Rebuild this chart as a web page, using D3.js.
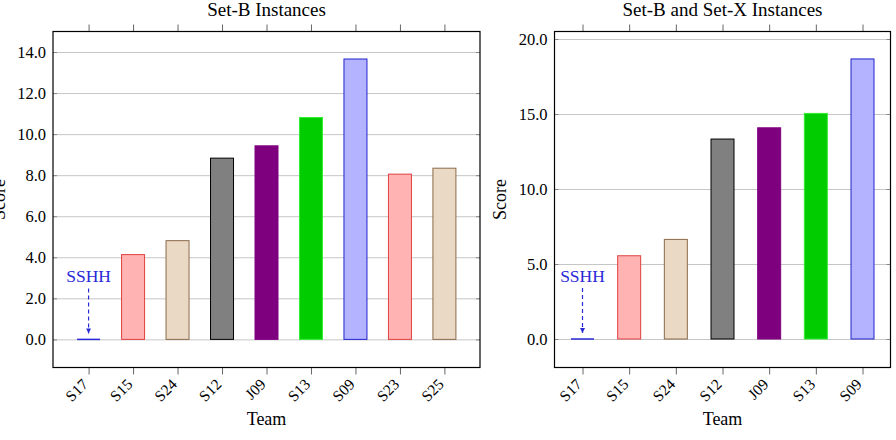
<!DOCTYPE html>
<html>
<head>
<meta charset="utf-8">
<script src="https://cdn.jsdelivr.net/npm/d3@7"></script>
<style>
  body { margin: 0; background: #fff; }
  text { font-family: "Liberation Serif", "DejaVu Serif", serif; }
</style>
</head>
<body>
<script>
// data
const teamsB = ["S17", "S15", "S24", "S12", "J09", "S13", "S09", "S23", "S25"];
const scoresB = [0, 4.13, 4.81, 8.83, 9.43, 10.81, 13.66, 8.05, 8.34];
const ticksB = [0, 2, 4, 6, 8, 10, 12, 14];

const teamsBX = ["S17", "S15", "S24", "S12", "J09", "S13", "S09"];
const scoresBX = [0, 5.55, 6.64, 13.33, 14.08, 15.04, 18.67];
const ticksBX = [0, 5, 10, 15, 20];

const annotation = "SSHH";

// team colours (fill, stroke)
const teamFill = {
  S17: "none", S15: "#ffb3b3", S23: "#ffb3b3", S24: "#ead9c4", S25: "#ead9c4",
  S12: "#808080", J09: "#7f007f", S13: "#00cc00", S09: "#b3b3ff"
};
const teamStroke = {
  S17: "#2a2ad8", S15: "#e04040", S23: "#e04040", S24: "#8b6b4a", S25: "#8b6b4a",
  S12: "#000000", J09: "#7f007f", S13: "#33ee33", S09: "#2222cc"
};

const width = 896, height = 440;
const svg = d3.select("body").append("svg")
    .attr("width", width)
    .attr("height", height);

svg.append("defs").append("marker")
    .attr("id", "arrow")
    .attr("viewBox", "0 0 10 10")
    .attr("refX", 10).attr("refY", 5)
    .attr("markerWidth", 5).attr("markerHeight", 5)
    .attr("markerUnits", "userSpaceOnUse")
    .attr("orient", "auto")
    .append("path")
    .attr("d", "M0,0 L10,5 L0,10 z")
    .attr("fill", "#2a2ad8");

function drawPanel(cfg) {
    const x = d3.scaleLinear().domain(cfg.xDomain).range([cfg.left, cfg.right]);
    const y = d3.scaleLinear().domain(cfg.yDomain).range([cfg.bottom, cfg.top]);
    const g = svg.append("g");
    const idx = d3.range(cfg.teams.length);

    // grid lines + y labels
    g.append("g")
        .attr("transform", `translate(${cfg.left},0)`)
        .call(d3.axisLeft(y).tickValues(cfg.yTicks).tickFormat(d3.format(".1f"))
            .tickSize(-(cfg.right - cfg.left)).tickPadding(7))
        .call(a => a.select(".domain").remove())
        .call(a => a.selectAll("line").attr("stroke", "#c6c6c6"))
        .call(a => a.selectAll("text").attr("font-size", 16.5).attr("fill", "#000"));

    // small y ticks at both edges
    g.append("g")
        .attr("transform", `translate(${cfg.left},0)`)
        .call(d3.axisLeft(y).tickValues(cfg.yTicks).tickFormat("").tickSize(-4))
        .call(a => a.select(".domain").remove())
        .call(a => a.selectAll("line").attr("stroke", "#888"));
    g.append("g")
        .attr("transform", `translate(${cfg.right},0)`)
        .call(d3.axisRight(y).tickValues(cfg.yTicks).tickFormat("").tickSize(-4))
        .call(a => a.select(".domain").remove())
        .call(a => a.selectAll("line").attr("stroke", "#888"));

    // bars
    const bw = 23;
    g.selectAll("rect.bar")
        .data(idx.filter(i => cfg.scores[i] > 0))
        .enter().append("rect")
        .attr("class", "bar")
        .attr("x", i => x(i) - bw / 2)
        .attr("y", i => y(cfg.scores[i]))
        .attr("width", bw)
        .attr("height", i => y(0) - y(cfg.scores[i]))
        .attr("fill", i => teamFill[cfg.teams[i]])
        .attr("stroke", i => teamStroke[cfg.teams[i]])
        .attr("stroke-width", 1);

    g.selectAll("line.zero")
        .data(idx.filter(i => cfg.scores[i] === 0))
        .enter().append("line")
        .attr("class", "zero")
        .attr("x1", i => x(i) - bw / 2)
        .attr("x2", i => x(i) + bw / 2)
        .attr("y1", y(0)).attr("y2", y(0))
        .attr("stroke", i => teamStroke[cfg.teams[i]])
        .attr("stroke-width", 1.5);

    // annotation on the zero bar
    const zi = cfg.scores.indexOf(0);
    g.append("text")
        .attr("x", x(zi))
        .attr("y", y(0) - 57)
        .attr("text-anchor", "middle")
        .attr("font-size", 17.5)
        .attr("fill", "#2a2ad8")
        .text(annotation);
    g.append("line")
        .attr("x1", x(zi)).attr("x2", x(zi))
        .attr("y1", y(0) - 51).attr("y2", y(0) - 6)
        .attr("stroke", "#2a2ad8")
        .attr("stroke-width", 1.2)
        .attr("stroke-dasharray", "4,3")
        .attr("marker-end", "url(#arrow)");

    // x axis bottom with rotated labels
    g.append("g")
        .attr("transform", `translate(0,${cfg.bottom})`)
        .call(d3.axisBottom(x).tickValues(idx).tickFormat(i => cfg.teams[i]).tickSize(7))
        .call(a => a.select(".domain").remove())
        .call(a => a.selectAll("line").attr("stroke", "#666"))
        .call(a => a.selectAll("text")
            .attr("font-size", 15.5)
            .attr("fill", "#000")
            .attr("x", 0).attr("y", 0).attr("dy", "0.35em")
            .attr("text-anchor", "end")
            .attr("transform", "translate(-4,14) rotate(-45)"));

    // top ticks
    g.append("g")
        .attr("transform", `translate(0,${cfg.top})`)
        .call(d3.axisTop(x).tickValues(idx).tickFormat("").tickSize(7))
        .call(a => a.select(".domain").remove())
        .call(a => a.selectAll("line").attr("stroke", "#666"));

    // frame
    g.append("rect")
        .attr("x", cfg.left).attr("y", cfg.top)
        .attr("width", cfg.right - cfg.left)
        .attr("height", cfg.bottom - cfg.top)
        .attr("fill", "none")
        .attr("stroke", "#000")
        .attr("stroke-width", 1.2);

    // titles
    const cx = (cfg.left + cfg.right) / 2;
    g.append("text")
        .attr("x", cx).attr("y", 16)
        .attr("text-anchor", "middle")
        .attr("font-size", 19)
        .text(cfg.title);
    g.append("text")
        .attr("x", cx).attr("y", 425)
        .attr("text-anchor", "middle")
        .attr("font-size", 18)
        .text("Team");
    g.append("text")
        .attr("transform", `translate(${cfg.left - 48.5},${(cfg.top + cfg.bottom) / 2}) rotate(-90)`)
        .attr("text-anchor", "middle")
        .attr("font-size", 18)
        .text("Score");
}

drawPanel({
    title: "Set-B Instances",
    teams: teamsB, scores: scoresB, yTicks: ticksB,
    xDomain: [-0.8, 8.8], yDomain: [-1.37, 15.0],
    left: 53, right: 480, top: 31.5, bottom: 367.5
});

drawPanel({
    title: "Set-B and Set-X Instances",
    teams: teamsBX, scores: scoresBX, yTicks: ticksBX,
    xDomain: [-0.6, 6.6], yDomain: [-1.9, 20.5],
    left: 554.5, right: 890.5, top: 31.5, bottom: 367.5
});
</script>
</body>
</html>
